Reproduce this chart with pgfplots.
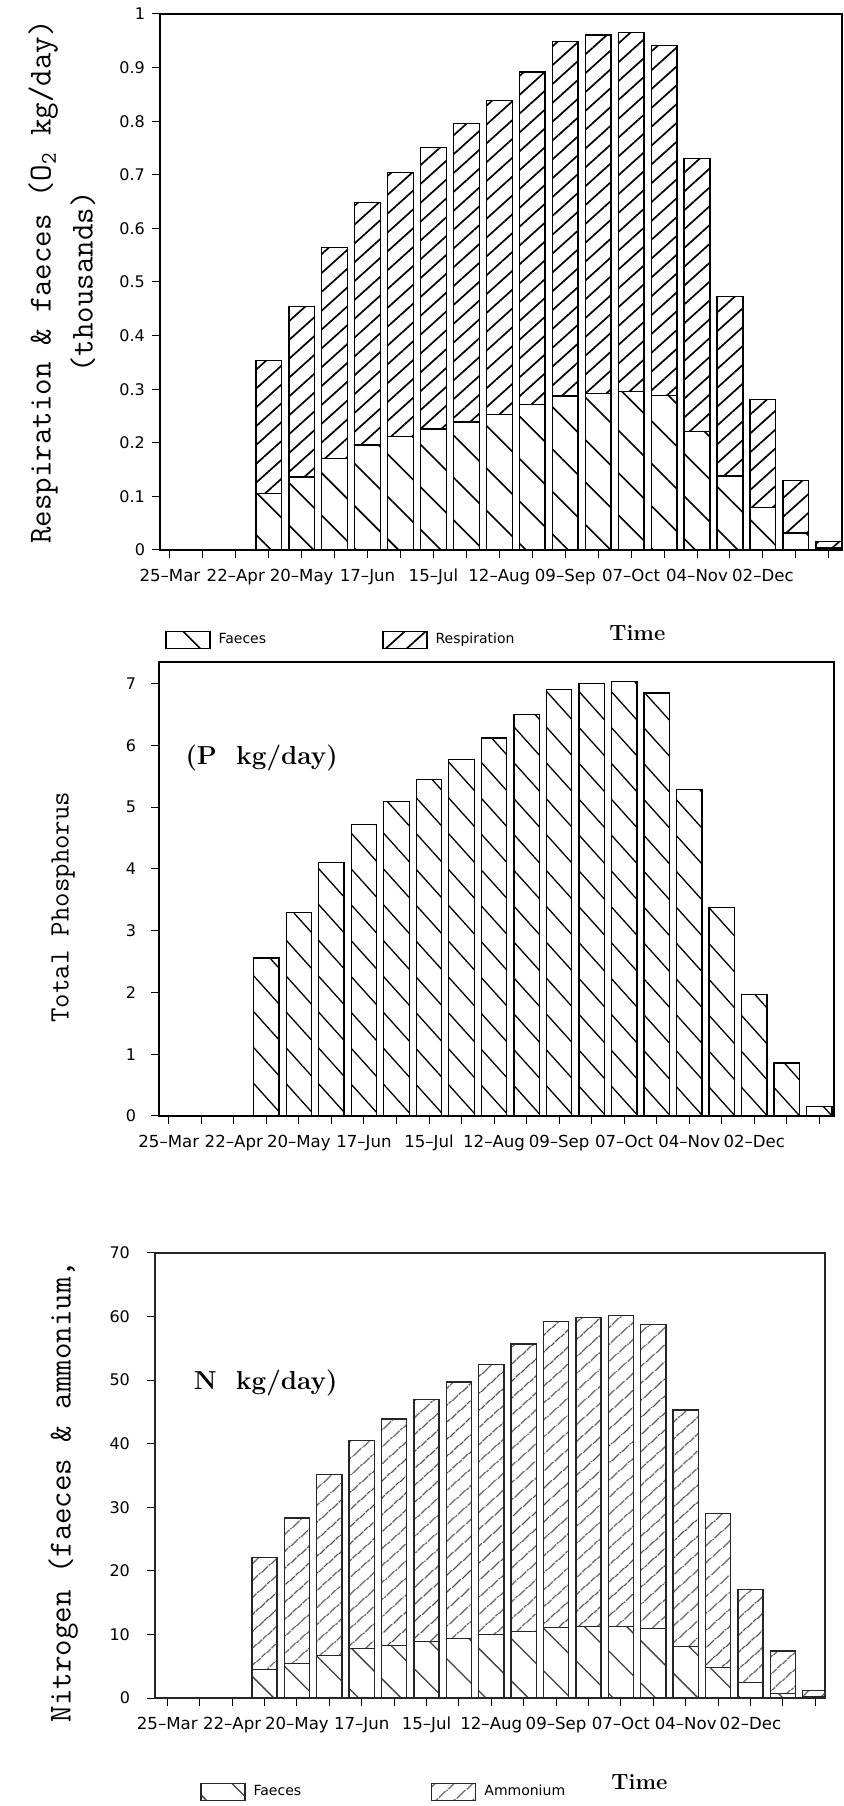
\documentclass[border=0pt]{standalone}
\usepackage{fontspec}
\setsansfont{DejaVu Sans}
\usepackage{pgfplots}
\usepackage{pgfplotstable}
\pgfplotsset{compat=1.18}
\usetikzlibrary{patterns.meta}

\pgfplotstableread{
x fae res
0 0 0
1 0 0
2 0 0
3 0.105 0.248
4 0.136 0.318
5 0.171 0.393
6 0.196 0.452
7 0.212 0.492
8 0.226 0.525
9 0.239 0.557
10 0.253 0.586
11 0.271 0.621
12 0.287 0.662
13 0.292 0.669
14 0.296 0.669
15 0.288 0.653
16 0.221 0.509
17 0.138 0.335
18 0.079 0.202
19 0.032 0.098
20 0.004 0.012
}\topdata

\pgfplotstableread{
x tp
0 0
1 0
2 0
3 2.56
4 3.30
5 4.10
6 4.72
7 5.09
8 5.45
9 5.77
10 6.12
11 6.50
12 6.91
13 7.00
14 7.03
15 6.85
16 5.29
17 3.37
18 1.97
19 0.86
20 0.15
}\middata

\pgfplotstableread{
x fae amm
0 0 0
1 0 0
2 0 0
3 4.5 17.6
4 5.4 22.9
5 6.7 28.5
6 7.8 32.7
7 8.3 35.6
8 8.9 38.1
9 9.4 40.3
10 10.0 42.5
11 10.5 45.2
12 11.1 48.1
13 11.2 48.7
14 11.3 48.9
15 10.9 47.9
16 8.1 37.2
17 4.8 24.2
18 2.4 14.7
19 0.7 6.7
20 0.2 1.0
}\botdata

\pgfplotsset{
  lotus/.style={
    scale only axis,
    ybar stacked,
    bar width=0.78,
    axis line style={line width=0.6pt},
    xmin=-0.3, xmax=20.4,
    ymin=0,
    xtick={0,...,20},
    xticklabels={25–Mar,,22–Apr,,20–May,,17–Jun,,15–Jul,,12–Aug,,09–Sep,,07–Oct,,04–Nov,,02–Dec,,},
    tick pos=left,
    tick align=outside,
    major tick length=4pt,
    tick style={line width=0.5pt,black},
    xticklabel style={font=\sffamily\fontsize{8.3}{9}\selectfont, yshift=-2pt},
    yticklabel style={font=\sffamily\fontsize{8}{9}\selectfont},
    /pgf/number format/assume math mode=true,
    ylabel style={font=\ttfamily\fontsize{15}{21}\selectfont, align=center, anchor=center},
    legend columns=2,
    legend image code/.code={\draw[##1] (0pt,-4.25pt) rectangle (22pt,4.25pt);},
    legend style={draw=none, fill=none, inner sep=0pt,
      font=\sffamily\fontsize{7}{8}\selectfont,
      nodes={inner xsep=4pt}},
    xlabel style={font=\bfseries\fontsize{11}{13}\selectfont, anchor=center},
  },
}

\begin{document}
\begin{tikzpicture}
\path[use as bounding box] (0,0) rectangle (422pt,903pt);

% ---------------- top panel ----------------
\begin{axis}[lotus,
  at={(80pt,628pt)}, anchor=south west,
  width=341pt, height=268pt,
  ymax=1,
  ytick={0,0.1,0.2,0.3,0.4,0.5,0.6,0.7,0.8,0.9,1},
  ylabel={Respiration \& faeces (O\textsubscript{2} kg/day)\\(thousands)},
  ylabel style={at={(axis description cs:-0.144,0.5)}, font=\ttfamily\fontsize{16}{21}\selectfont},
  xlabel={Time},
  xlabel style={at={(axis description cs:0.70,-0.155)}},
  legend style={at={(axis description cs:0.007,-0.168)}, anchor=west,
    /tikz/every even column/.append style={column sep=54pt}},
]
\addplot[draw=black, line width=0.7pt, pattern={Lines[angle=-45,distance=15pt,line width=0.8pt]}, pattern color=black]
  table[x=x,y=fae]{\topdata};
\addplot[draw=black, line width=0.7pt, pattern={Lines[angle=42,distance=7pt,line width=0.85pt]}, pattern color=black]
  table[x=x,y=res]{\topdata};
\legend{Faeces,Respiration}
\end{axis}

% ---------------- middle panel ----------------
\begin{axis}[lotus,
  at={(79.5pt,345pt)}, anchor=south west,
  width=337.5pt, height=227pt,
  xmax=20.45,
  ymax=7.35,
  ytick={0,1,2,3,4,5,6,7},
  yticklabel style={xshift=-4pt},
  ylabel={Total Phosphorus},
  ylabel style={at={(axis description cs:-0.142,0.46)}, font=\ttfamily\fontsize{14}{17}\selectfont},
]
\addplot[draw=black, line width=0.65pt, pattern={Lines[angle=-48,distance=12pt,line width=0.65pt]}, pattern color=black]
  table[x=x,y=tp]{\middata};
\node[anchor=west, font=\bfseries\fontsize{13}{16}\selectfont] at (axis cs:0.3,5.8) {(P\ \ kg/day)};
\end{axis}

% ---------------- bottom panel ----------------
\begin{axis}[lotus,
  at={(77.5pt,54pt)}, anchor=south west,
  width=335pt, height=222.5pt,
  xmin=-0.38, xmax=20.3,
  ymax=70,
  ytick={0,10,20,30,40,50,60,70},
  yticklabel style={xshift=-5pt},
  ylabel={Nitrogen (faeces \& ammonium,},
  ylabel style={at={(axis description cs:-0.137,0.464)}, font=\ttfamily\fontsize{16}{18}\selectfont},
  xlabel={Time},
  xlabel style={at={(axis description cs:0.723,-0.189)}},
  legend style={at={(axis description cs:0.067,-0.211)}, anchor=west,
    /tikz/every even column/.append style={column sep=61pt}},
  axis line style={draw=black!85},
]
\addplot[draw=black!85, line width=0.65pt, pattern={Lines[angle=-45,distance=15pt,line width=0.65pt]}, pattern color=black!75]
  table[x=x,y=fae]{\botdata};
\addplot[draw=black!85, line width=0.65pt, pattern={Lines[angle=42,distance=6.5pt,line width=0.65pt]}, pattern color=black!70]
  table[x=x,y=amm]{\botdata};
\legend{Faeces,Ammonium}
\node[anchor=west, font=\bfseries\fontsize{13}{16}\selectfont] at (axis cs:0.6,49.5) {N\ \ kg/day)};
\end{axis}
\end{tikzpicture}
\end{document}
